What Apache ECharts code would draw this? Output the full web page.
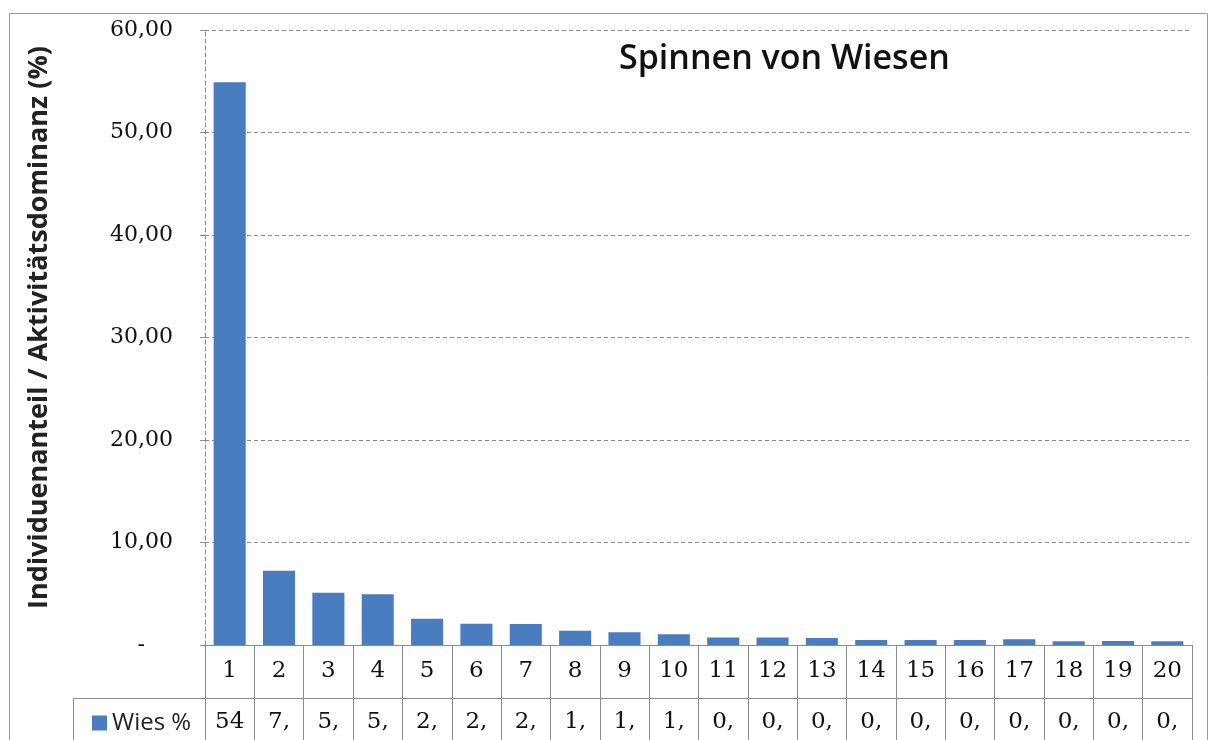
<!DOCTYPE html>
<html>
<head>
<meta charset="utf-8">
<title>Spinnen von Wiesen</title>
<script src="https://cdn.jsdelivr.net/npm/echarts@6.0.0/dist/echarts.min.js"></script>
<style>
    html, body { margin: 0; padding: 0; background: #fff; }
    #chart { width: 1212px; height: 740px; }
</style>
</head>
<body>
<div id="chart"></div>
<script>
// Rang der Arten 1..20
var categories = ['1', '2', '3', '4', '5', '6', '7', '8', '9', '10',
    '11', '12', '13', '14', '15', '16', '17', '18', '19', '20'];
// Anteil in % (aus dem Bild geschaetzt)
var wiesValues = [54.9, 7.25, 5.1, 4.95, 2.57, 2.08, 2.05, 1.4, 1.24, 1.04,
    0.72, 0.72, 0.68, 0.49, 0.5, 0.49, 0.55, 0.36, 0.39, 0.36];
// Texte in der Datentabelle, so wie sie (abgeschnitten) dastehen
var tableLabels = ['54', '7,', '5,', '5,', '2,', '2,', '2,', '1,', '1,', '1,',
    '0,', '0,', '0,', '0,', '0,', '0,', '0,', '0,', '0,', '0,'];
var yTicks = [0, 10, 20, 30, 40, 50, 60];

var seriesName = 'Wies %';
var barColor = '#4a7dc0';
var lineColor = '#8c8c8c';

var myChart = echarts.init(document.getElementById('chart'));
var option = {
    backgroundColor: '#fff'
    , animation: false
    , title: {
        text: 'Spinnen von Wiesen'
        , left: 614
        , top: 37
        , textStyle: {
            fontFamily: 'Open Sans'
            , fontSize: 34
            , fontWeight: 600
            , color: '#111'
        }
    }
    , legend: {
        data: [seriesName]
        , left: 92
        , top: 711
        , padding: 0
        , icon: 'rect'
        , itemWidth: 15
        , itemHeight: 15
        , textStyle: {
            fontFamily: 'Open Sans'
            , fontSize: 24
            , color: '#222'
        }
    }
    , grid: {
        left: 205
        , right: 20
        , top: 30
        , bottom: 95
    }
    , xAxis: [
        {
            type: 'category'
            , position: 'bottom'
            , data: categories
            , axisLine: {
                show: true
                , lineStyle: { color: lineColor, width: 1 }
            }
            , axisTick: {
                show: true
                , length: 53
                , lineStyle: { color: lineColor, width: 1 }
            }
            , axisLabel: {
                margin: 15
                , interval: 0
                , fontFamily: 'DejaVu Serif'
                , fontSize: 23
                , color: '#111'
            }
        }
        , {
            type: 'category'
            , position: 'bottom'
            , offset: 53
            , data: categories
            , axisLine: {
                show: true
                , lineStyle: { color: lineColor, width: 1 }
            }
            , axisTick: {
                show: true
                , length: 60
                , lineStyle: { color: lineColor, width: 1 }
            }
            , axisLabel: {
                margin: 13
                , interval: 0
                , fontFamily: 'DejaVu Serif'
                , fontSize: 23
                , color: '#111'
                , formatter: function (value, index) {
                    return tableLabels[index];
                }
            }
        }
    ]
    , yAxis: [
        {
            type: 'value'
            , min: yTicks[0]
            , max: yTicks[yTicks.length - 1]
            , interval: 10
            , name: 'Individuenanteil / Aktivitätsdominanz (%)'
            , nameLocation: 'middle'
            , nameGap: 152
            , nameTextStyle: {
                fontFamily: 'Open Sans'
                , fontSize: 27
                , fontWeight: 'bold'
                , color: '#222'
                , padding: [0, 0, 0, 20]
            }
            , axisLine: {
                show: true
                , lineStyle: { color: lineColor, width: 1, type: [4, 3] }
            }
            , axisTick: {
                show: true
                , length: 5
                , lineStyle: { color: lineColor }
            }
            , splitLine: {
                show: true
                , lineStyle: { color: lineColor, width: 1, type: [4, 3] }
            }
            , axisLabel: {
                margin: 32
                , fontFamily: 'DejaVu Serif'
                , fontSize: 22
                , color: '#111'
                , formatter: function (value) {
                    if (value === 0) {
                        return '-    ';
                    }
                    return value.toFixed(2).replace('.', ',');
                }
            }
        }
    ]
    , graphic: [
        {
            // Rahmen um das Diagramm
            type: 'rect'
            , silent: true
            , shape: { x: 9.5, y: 13.5, width: 1198, height: 780 }
            , style: { fill: 'none', stroke: '#9a9a9a', lineWidth: 1 }
        }
        , {
            // Zelle mit der Legende
            type: 'polyline'
            , silent: true
            , shape: { points: [[205, 698.5], [73.5, 698.5], [73.5, 760]] }
            , style: { fill: 'none', stroke: lineColor, lineWidth: 1 }
        }
    ]
    , series: [
        {
            name: seriesName
            , type: 'bar'
            , xAxisIndex: 0
            , barWidth: '65%'
            , itemStyle: { color: barColor }
            , data: wiesValues
        }
    ]
};
myChart.setOption(option);
</script>
</body>
</html>
